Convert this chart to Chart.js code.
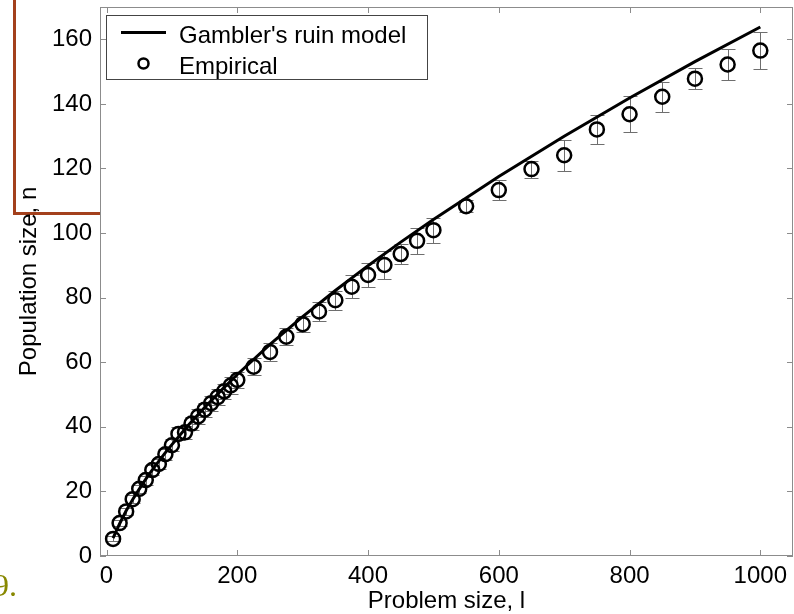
<!DOCTYPE html>
<html>
<head>
<meta charset="utf-8">
<title>Population size vs problem size</title>
<script src="https://cdn.jsdelivr.net/npm/chart.js@4.4.1/dist/chart.umd.min.js"></script>
<style>
  html, body { margin: 0; padding: 0; background: #fff; }
  #wrap { position: relative; width: 794px; height: 614px; overflow: hidden; }
  #frame { position: absolute; left: 13px; top: -4px; width: 84px; height: 216px;
           border-left: 3px solid #a3401c; border-bottom: 3px solid #a3401c; }
  #slideNo { position: absolute; left: -7px; top: 569px; font: 32px/32px "Liberation Serif", serif; color: #888800; }
  canvas { position: absolute; left: 0; top: 0; }
</style>
</head>
<body>
<div id="wrap">
  <div id="frame"></div>
  <canvas id="myChart" width="794" height="614"></canvas>
  <div id="slideNo">9.</div>
</div>
<script>
// problem sizes where the GA was run, with mean population size and error
var sizes = [10, 20, 30, 40, 50, 60, 70, 80, 90, 100,
             110, 120, 130, 140, 150, 160, 170, 180, 190, 200,
             225, 250, 275, 300, 325, 350, 375, 400, 425, 450, 475, 500,
             550, 600, 650, 700, 750, 800, 850, 900, 950, 1000];
var empirical = [5.3, 10.2, 13.8, 17.6, 20.8, 23.5, 26.6, 28.5, 31.5, 34.3,
                 37.8, 38.3, 41.0, 43.2, 45.3, 47.3, 49.2, 51.0, 52.8, 54.5,
                 58.6, 63.2, 67.9, 71.8, 75.7, 79.2, 83.4, 87.0, 90.1, 93.5, 97.6, 100.9,
                 108.3, 113.3, 119.8, 124.1, 132.1, 136.8, 142.2, 147.8, 152.2, 156.5];
var errors = [0.8, 1.0, 1.1, 1.2, 1.3, 1.4, 1.5, 1.6, 1.7, 1.8,
              2.0, 2.0, 2.1, 2.2, 2.2, 2.3, 2.4, 2.4, 2.5, 2.6,
              2.7, 2.7, 2.6, 2.5, 2.8, 3.0, 3.5, 3.6, 4.4, 3.0, 4.0, 3.9,
              1.8, 3.0, 2.6, 4.8, 4.5, 5.5, 4.6, 3.3, 4.7, 5.7];

// model curve
var modelSizes = [10, 20, 30, 40, 50, 60, 70, 80, 90, 100, 125, 150, 175, 200,
                  250, 300, 350, 400, 450, 500, 600, 700, 800, 900, 1000];
var modelPop = [5.5, 10.0, 14.0, 17.5, 20.7, 23.8, 26.7, 29.4, 32.0, 34.5, 40.5, 46.0, 51.2, 56.2,
                65.5, 74.1, 82.2, 89.9, 97.2, 104.2, 117.5, 130.0, 141.8, 153.1, 163.8];

var xTicks = [0, 200, 400, 600, 800, 1000];
var yTicks = [0, 20, 40, 60, 80, 100, 120, 140, 160];

var labelFont = { family: '"Liberation Sans", Arial, sans-serif', size: 24 };

function plainLabel(v) {
  return String(v);
}

var errorBars = {
  id: 'errorBars',
  beforeDatasetsDraw: function(chart) {
    var ctx = chart.ctx, x = chart.scales.x, y = chart.scales.y;
    ctx.save();
    ctx.strokeStyle = '#6e6e6e';
    ctx.lineWidth = 1;
    ctx.beginPath();
    sizes.forEach(function(s, i) {
      var px = Math.round(x.getPixelForValue(s)) + 0.5;
      var top = Math.round(y.getPixelForValue(empirical[i] + errors[i])) + 0.5;
      var bot = Math.round(y.getPixelForValue(empirical[i] - errors[i])) + 0.5;
      ctx.moveTo(px, top); ctx.lineTo(px, bot);
      ctx.moveTo(px - 7, top); ctx.lineTo(px + 7, top);
      ctx.moveTo(px - 7, bot); ctx.lineTo(px + 7, bot);
    });
    ctx.stroke();
    ctx.restore();
  }
};

var axesBox = {
  id: 'axesBox',
  afterDraw: function(chart) {
    var ctx = chart.ctx, a = chart.chartArea, x = chart.scales.x, y = chart.scales.y;
    ctx.save();
    ctx.strokeStyle = '#8c8c8c';
    ctx.lineWidth = 1;
    ctx.strokeRect(a.left + 0.5, a.top + 0.5, a.right - a.left - 1, a.bottom - a.top - 1);
    ctx.beginPath();
    xTicks.forEach(function(v) {
      var px = Math.round(x.getPixelForValue(v)) + 0.5;
      ctx.moveTo(px, a.bottom); ctx.lineTo(px, a.bottom - 6);
      ctx.moveTo(px, a.top); ctx.lineTo(px, a.top + 6);
    });
    yTicks.forEach(function(v) {
      var py = Math.round(y.getPixelForValue(v)) + 0.5;
      ctx.moveTo(a.left, py); ctx.lineTo(a.left + 6, py);
      ctx.moveTo(a.right, py); ctx.lineTo(a.right - 6, py);
    });
    ctx.stroke();

    // legend box in the top left corner
    var ds = chart.data.datasets;
    ctx.fillStyle = '#fff';
    ctx.fillRect(106, 15, 321, 64);
    ctx.strokeStyle = '#444';
    ctx.strokeRect(106.5, 15.5, 321, 64);
    ctx.strokeStyle = '#000';
    ctx.lineWidth = 3;
    ctx.beginPath();
    ctx.moveTo(121, 32.5); ctx.lineTo(166, 32.5);
    ctx.stroke();
    ctx.lineWidth = 2.5;
    ctx.beginPath();
    ctx.arc(143.5, 63.5, 5, 0, Math.PI * 2);
    ctx.stroke();
    ctx.fillStyle = '#000';
    ctx.font = '24px "Liberation Sans", Arial, sans-serif';
    ctx.textBaseline = 'alphabetic';
    ctx.fillText(ds[0].label, 179, 43);
    ctx.fillText(ds[1].label, 179, 74);
    ctx.restore();
  }
};

var ctx = document.getElementById('myChart').getContext('2d');
var chart = new Chart(ctx, {
  type: 'scatter',
  data: {
    datasets: [{
      label: "Gambler's ruin model",
      type: 'line',
      data: modelSizes.map(function(s, i) { return { x: s, y: modelPop[i] }; }),
      borderColor: '#000',
      borderWidth: 3,
      pointRadius: 0,
      fill: false,
      tension: 0
    },
    {
      label: 'Empirical',
      data: sizes.map(function(s, i) { return { x: s, y: empirical[i] }; }),
      pointStyle: 'circle',
      pointRadius: 7,
      pointBorderWidth: 2.5,
      borderColor: '#000',
      backgroundColor: 'rgba(0,0,0,0)'
    }]
  },
  options: {
    responsive: false,
    animation: false,
    devicePixelRatio: 1,
    layout: { autoPadding: false, padding: { top: 7, right: 1, left: 0, bottom: 0 } },
    plugins: { legend: { display: false }, tooltip: { enabled: false } },
    scales: {
      x: {
        type: 'linear',
        min: -10,
        max: 1050,
        afterBuildTicks: function(s) { s.ticks = xTicks.map(function(v) { return { value: v }; }); },
        afterFit: function(s) {
          s.height = 58;
          s.paddingLeft = 0; s.paddingRight = 0;
        },
        grid: { display: false, drawTicks: false },
        border: { display: false },
        ticks: { color: '#000', font: labelFont, padding: 6, maxRotation: 0, callback: plainLabel },
        title: { display: true, text: 'Problem size, l', color: '#000',
                 font: { family: labelFont.family, size: 24, lineHeight: 1 }, padding: { top: 0, bottom: 1 } }
      },
      y: {
        min: 0,
        max: 170,
        afterBuildTicks: function(s) { s.ticks = yTicks.map(function(v) { return { value: v }; }); },
        afterFit: function(s) {
          s.width = 100;
          s.paddingTop = 0; s.paddingBottom = 0;
        },
        grid: { display: false, drawTicks: false },
        border: { display: false },
        ticks: { color: '#000', font: labelFont, padding: 8, callback: plainLabel },
        title: { display: true, text: 'Population size, n', color: '#000',
                 font: { family: labelFont.family, size: 24, lineHeight: 1 }, padding: { top: 17, bottom: 0 } }
      }
    }
  },
  plugins: [errorBars, axesBox]
});
</script>
</body>
</html>
